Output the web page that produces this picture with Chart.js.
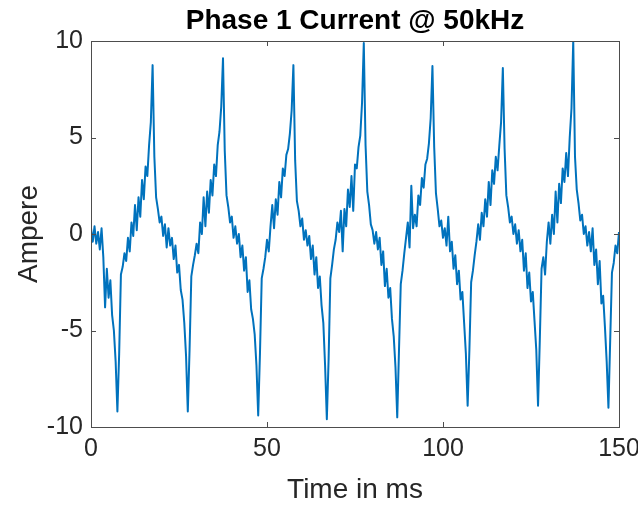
<!DOCTYPE html>
<html>
<head>
<meta charset="utf-8">
<title>Phase 1 Current</title>
<script src="https://cdn.jsdelivr.net/npm/chart.js@4.4.0/dist/chart.umd.min.js"></script>
<style>
  body { margin: 0; background: #fff; }
  canvas { display: block; }
</style>
</head>
<body>
<canvas id="phaseChart" width="638" height="505"></canvas>
<script>
// sample spacing in ms
const dtMs = 0.5;
const amps = [
  0.3, -0.4, 0.4, -0.5, 0.1, -0.8, 0.3, -1.2, -3.8, -1.8,
  -3.3, -2.4, -4.2, -5.0, -6.6, -9.2, -6.2, -2.1, -1.7, -1.0,
  -1.4, -0.2, -0.9, 0.6, -0.1, 1.5, 0.2, 1.9, 0.9, 2.8,
  1.8, 3.5, 3.0, 4.6, 5.8, 8.75, 4.0, 1.9, 1.3, 0.6,
  0.9, -0.1, 0.5, -0.7, 0.3, -0.6, -0.2, -1.3, -0.6, -2.0,
  -1.6, -2.9, -3.4, -4.6, -6.3, -9.2, -6.0, -2.2, -1.6, -1.1,
  -0.5, -1.0, 0.6, 0.0, 1.9, 0.4, 2.2, 1.1, 2.8, 2.0,
  3.6, 3.0, 4.6, 5.3, 6.6, 9.1, 4.3, 2.0, 1.4, 0.6,
  0.9, -0.2, 0.4, -0.5, 0.0, -1.2, -0.6, -1.9, -1.2, -3.0,
  -2.4, -3.9, -4.4, -5.2, -6.8, -9.4, -6.2, -2.3, -1.8, -1.2,
  -0.3, -0.9, 0.4, 1.5, 0.3, 1.8, 1.0, 2.7, 1.9, 3.4,
  3.0, 4.1, 4.4, 5.2, 6.4, 8.75, 3.8, 1.7, 1.2, 0.4,
  0.8, -0.3, 0.2, -0.6, -0.1, -1.3, -0.6, -2.1, -1.2, -2.8,
  -2.2, -3.7, -4.6, -6.8, -9.6, -6.5, -2.3, -1.6, -0.8, -0.3,
  0.6, 0.1, 1.2, -0.9, 1.3, 0.4, 2.3, 1.4, 3.0, 1.2,
  3.6, 3.4, 4.5, 5.1, 6.8, 9.9, 4.6, 2.2, 1.5, 0.5,
  0.2, -0.5, 0.1, -0.8, -0.2, -1.6, -0.9, -2.7, -1.8, -3.3,
  -2.8, -4.4, -5.3, -6.9, -9.5, -6.0, -2.6, -1.9, -1.0, -0.2,
  0.6, -0.7, 2.5, 0.3, 1.0, 0.4, 2.0, 1.5, 2.9, 2.4,
  3.6, 3.9, 4.7, 6.0, 8.7, 4.5, 2.1, 1.3, 0.4, 0.7,
  -0.2, 0.3, -0.6, 0.9, -0.9, -0.4, -1.8, -1.1, -2.6, -1.9,
  -3.4, -3.0, -4.6, -6.2, -8.9, -6.0, -2.5, -1.9, -1.1, -0.4,
  0.5, -0.3, 1.1, 0.4, 1.8, 0.9, 2.7, 1.5, 3.3, 2.6,
  4.0, 3.3, 4.6, 5.8, 8.6, 4.4, 2.0, 1.4, 0.6, 0.9,
  0.0, 0.5, -0.5, 0.2, -0.9, -0.3, -1.9, -1.0, -2.8, -2.0,
  -3.5, -3.0, -4.5, -6.0, -8.9, -5.5, -1.8, -1.2, -2.1, -0.4,
  0.6, -0.5, 1.0, 0.0, 2.2, 0.6, 2.6, 1.6, 3.4, 2.7,
  4.2, 3.0, 5.0, 6.5, 10.0, 4.0, 2.3, 1.6, 0.7, 1.0,
  0.0, 0.4, -0.6, 0.1, -0.9, 0.3, -1.6, -0.8, -2.6, -1.4,
  -3.6, -3.2, -4.8, -6.6, -9.0, -5.5, -2.0, -1.5, -0.6, -1.0,
  0.1
];
const xTicks = [0, 50, 100, 150];
const yTicks = [-10, -5, 0, 5, 10];
const titleText = 'Phase 1 Current @ 50kHz';

const points = amps.map((a, i) => ({ x: i * dtMs, y: a }));
const fontFam = '"Liberation Sans", Arial, Helvetica, sans-serif';
const textCol = '#262626';
const axisCol = '#4d4d4d';

// MATLAB style box with inward ticks on all four sides, title over the axes
const boxAxes = {
    id: 'boxAxes',
    afterDatasetsDraw(chart) {
        const { ctx, chartArea: a, scales: { x, y } } = chart;
        const len = 5;
        ctx.save();
        ctx.strokeStyle = axisCol;
        ctx.lineWidth = 1;
        ctx.beginPath();
        xTicks.forEach(v => {
            const px = Math.round(x.getPixelForValue(v)) + 0.5;
            ctx.moveTo(px, a.bottom); ctx.lineTo(px, a.bottom - len);
            ctx.moveTo(px, a.top); ctx.lineTo(px, a.top + len);
        });
        yTicks.forEach(v => {
            const py = Math.round(y.getPixelForValue(v)) + 0.5;
            ctx.moveTo(a.left, py); ctx.lineTo(a.left + len, py);
            ctx.moveTo(a.right, py); ctx.lineTo(a.right - len, py);
        });
        ctx.stroke();
        ctx.strokeRect(Math.round(a.left) + 0.5, Math.round(a.top) + 0.5,
            Math.round(a.right - a.left), Math.round(a.bottom - a.top));

        ctx.fillStyle = '#000';
        ctx.font = 'bold 28px ' + fontFam;
        ctx.textAlign = 'center';
        ctx.textBaseline = 'alphabetic';
        ctx.fillText(titleText, (a.left + a.right) / 2, 29);
        ctx.restore();
    }
};

new Chart(document.getElementById('phaseChart'), {
    type: 'line',
    data: {
        datasets: [{
            data: points,
            borderColor: '#0072BD',
            borderWidth: 2,
            borderJoinStyle: 'round',
            pointRadius: 0,
            tension: 0,
            fill: false
        }]
    },
    options: {
        responsive: false,
        animation: false,
        layout: { padding: { left: 0, right: 19, top: 41, bottom: 0 } },
        plugins: {
            legend: { display: false },
            tooltip: { enabled: false },
            title: { display: false }
        },
        scales: {
            x: {
                type: 'linear',
                min: 0,
                max: 150,
                afterBuildTicks: s => { s.ticks = xTicks.map(v => ({ value: v })); },
                afterFit: s => { s.height = 78; s.paddingLeft = 0; s.paddingRight = 0; },
                ticks: { color: textCol, font: { family: fontFam, size: 25 }, padding: 7, maxRotation: 0 },
                grid: { display: false, drawTicks: false },
                border: { display: false },
                title: {
                    display: true,
                    text: 'Time in ms',
                    color: textCol,
                    font: { family: fontFam, size: 28 },
                    padding: { top: 0, bottom: -2 }
                }
            },
            y: {
                min: -10,
                max: 10,
                afterBuildTicks: s => { s.ticks = yTicks.map(v => ({ value: v })); },
                afterFit: s => { s.width = 91; s.paddingTop = 0; s.paddingBottom = 0; },
                ticks: { color: textCol, font: { family: fontFam, size: 25 }, padding: 8 },
                grid: { display: false, drawTicks: false },
                border: { display: false },
                title: {
                    display: true,
                    text: 'Ampere',
                    color: textCol,
                    font: { family: fontFam, size: 28 },
                    padding: { top: 12, bottom: 0 }
                }
            }
        }
    },
    plugins: [boxAxes]
});
</script>
</body>
</html>
